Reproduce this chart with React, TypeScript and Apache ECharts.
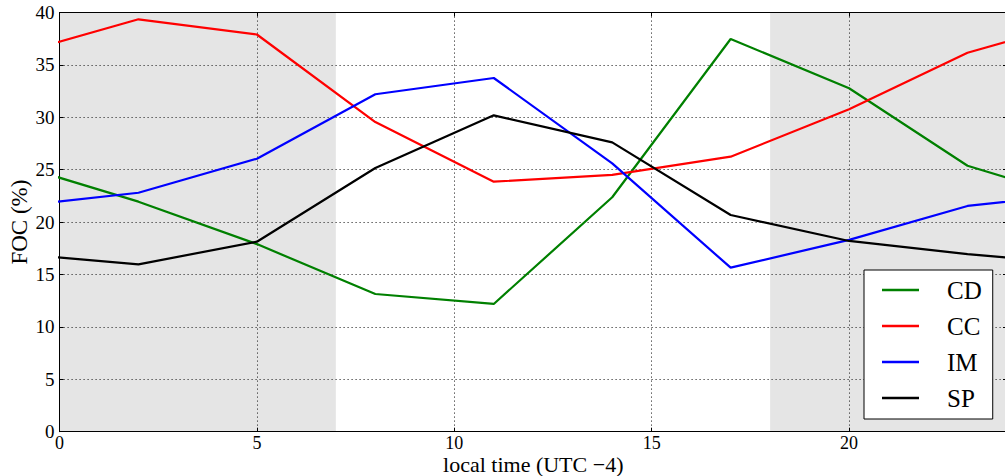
import React, { useEffect, useRef } from "react";
import * as echarts from "echarts";

const hours = [2, 5, 8, 11, 14, 17, 20, 23];
const cdValues = [21.95, 17.9, 13.14, 12.19, 22.37, 37.47, 32.77, 25.38];
const ccValues = [39.35, 37.9, 29.55, 23.86, 24.5, 26.24, 30.76, 36.16];
const imValues = [22.8, 26.05, 32.2, 33.75, 25.6, 15.65, 18.3, 21.54];
const spValues = [15.97, 18.13, 25.16, 30.19, 27.61, 20.68, 18.2, 16.95];
const seriesNames = ["CD", "CC", "IM", "SP"];
const seriesColors = ["#008000", "#ff0000", "#0000ff", "#000000"];
const nightBands = [
  [0, 7],
  [18, 24],
];
const xTicks = [0, 5, 10, 15, 20];

// periodic wrap: the day repeats every 24 h, so the last value is also drawn at -1 h and the first at 26 h
function wrapped(values: number[]) {
  const pts: number[][] = hours.map((h, i) => [h, values[i]]);
  pts.unshift([hours[hours.length - 1] - 24, values[values.length - 1]]);
  pts.push([hours[0] + 24, values[0]]);
  return pts;
}

const FONT = "'Liberation Serif', 'DejaVu Serif', serif";

export default function App() {
  const ref = useRef<HTMLDivElement>(null);
  useEffect(() => {
    if (!ref.current) return;
    const chart = echarts.init(ref.current, null, { renderer: "svg" });
    const allValues = [cdValues, ccValues, imValues, spValues];
    const gridLine = { show: true, lineStyle: { color: "#333", type: [1.2, 2.8] as any, width: 1 } };
    const tick = { show: true, inside: true, length: 4, lineStyle: { color: "#000" } };
    const line = { show: true, onZero: false, lineStyle: { color: "#000", width: 1 } };
    chart.setOption({
      animation: false,
      grid: {
        left: 59.5,
        top: 12.5,
        right: -2,
        bottom: 44.3,
        containLabel: false,
        outerBoundsMode: "none",
      },
      legend: {
        left: 864,
        top: 270,
        orient: "vertical",
        icon: "rect",
        itemWidth: 37,
        itemHeight: 2.5,
        itemGap: 0,
        padding: [2, 11, 3, 18],
        borderColor: "#000",
        borderWidth: 1,
        backgroundColor: "#fff",
        z: 20,
        data: seriesNames,
        textStyle: { fontFamily: FONT, fontSize: 25, color: "#000", lineHeight: 36, padding: [0, 0, 0, 23] },
      },
      xAxis: [
        {
          type: "value",
          min: 0,
          max: 24,
          interval: 5,
          z: 5,
          name: "local time (UTC \u22124)",
          nameLocation: "middle",
          nameGap: 23,
          nameMoveOverlap: false,
          nameTextStyle: { fontFamily: FONT, fontSize: 22, lineHeight: 20, color: "#000" },
          axisLine: line,
          axisTick: tick,
          splitLine: gridLine,
          axisLabel: {
            fontFamily: FONT,
            fontSize: 18,
            lineHeight: 16,
            color: "#000",
            margin: 3,
            formatter: (v: number) => (xTicks.includes(v) ? String(v) : ""),
          },
        },
        {
          type: "value",
          position: "top",
          min: 0,
          max: 24,
          interval: 5,
          z: 5,
          axisLine: line,
          axisTick: tick,
          splitLine: { show: false },
          axisLabel: { show: false },
        },
      ],
      yAxis: [
        {
          type: "value",
          min: 0,
          max: 40,
          interval: 5,
          z: 5,
          name: "FOC (%)",
          nameLocation: "middle",
          nameGap: 29,
          nameMoveOverlap: false,
          nameTextStyle: { fontFamily: FONT, fontSize: 23, color: "#000" },
          axisLine: line,
          axisTick: tick,
          splitLine: gridLine,
          axisLabel: { fontFamily: FONT, fontSize: 19, color: "#000", margin: 5 },
        },
        {
          type: "value",
          position: "right",
          min: 0,
          max: 40,
          interval: 5,
          z: 5,
          axisLine: line,
          axisTick: tick,
          splitLine: { show: false },
          axisLabel: { show: false },
        },
      ],
      series: [
        {
          type: "line",
          name: "bands",
          z: -1,
          silent: true,
          data: [[0, 0]],
          symbol: "none",
          lineStyle: { width: 0, opacity: 0 },
          markArea: {
            silent: true,
            z: -1,
            itemStyle: { color: "#e5e5e5" },
            data: nightBands.map((b) => [{ xAxis: b[0] }, { xAxis: b[1] }]),
          },
        },
        ...seriesNames.map((name, i) => ({
          type: "line",
          name,
          data: wrapped(allValues[i]),
          symbol: "none",
          showSymbol: false,
          clip: true,
          color: seriesColors[i],
          lineStyle: { color: seriesColors[i], width: 2.2 },
          z: 10,
        })),
      ],
    });
    return () => chart.dispose();
  }, []);
  return (
    <div
      ref={ref}
      style={{ position: "absolute", left: 0, top: 0, width: 1005, height: 476, background: "#fff" }}
    />
  );
}
